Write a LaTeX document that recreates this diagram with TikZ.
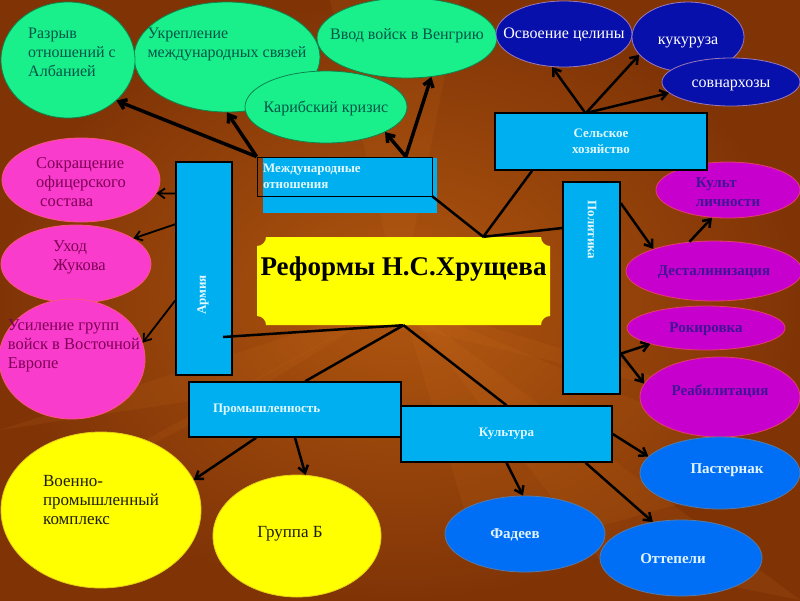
\documentclass[tikz,border=0pt]{standalone}
\usepackage{fontspec}
\setmainfont{Liberation Serif}
\usetikzlibrary{shapes.geometric,arrows.meta}
\definecolor{bgin}{RGB}{176,86,16}
\definecolor{bgout}{RGB}{128,52,6}
\definecolor{ray}{RGB}{230,130,40}
\definecolor{grn}{RGB}{25,240,140}
\definecolor{grntx}{RGB}{0,85,70}
\definecolor{navyb}{RGB}{8,16,172}
\definecolor{pnk}{RGB}{250,60,205}
\definecolor{pnktx}{RGB}{125,0,85}
\definecolor{prp}{RGB}{200,0,205}
\definecolor{prptx}{RGB}{65,20,150}
\definecolor{blu}{RGB}{0,110,245}
\definecolor{blutx}{RGB}{225,245,255}
\definecolor{ylw}{RGB}{255,255,0}
\definecolor{ylwtx}{RGB}{30,30,10}
\definecolor{skyb}{RGB}{0,175,240}
\definecolor{boxtx}{RGB}{225,248,255}
% text set in the middle of a blob: [raise][shift]{lines}
\NewDocumentCommand\inside{O{0pt}O{0pt}m}{\smash{\raisebox{#1}{\makebox[0pt]{\hspace*{#2}\begin{tabular}{@{}l@{}}#3\end{tabular}}}}}
\begin{document}
\begin{tikzpicture}
  [x=1pt,y=-1pt,
  blob/.style={ellipse,inner sep=0pt,line width=.8pt},
  sz/.style 2 args={minimum width=#1pt,minimum height=#2pt},
  green blob/.style={blob,fill=grn,draw=grn!55!black,text=grntx,font=\fontsize{16}{19}\selectfont},
  navy blob/.style={blob,fill=navyb,draw=pink!60!navyb,text=white,font=\fontsize{16}{19}\selectfont},
  pink blob/.style={blob,fill=pnk,draw=orange!40!pnk,text=pnktx,font=\fontsize{16.5}{19}\selectfont},
  purple blob/.style={blob,fill=prp,draw=orange!50!prp,text=prptx,font=\bfseries\fontsize{15}{19}\selectfont},
  blue blob/.style={blob,fill=blu,draw=gray!70!blu,text=blutx,font=\bfseries\fontsize{15}{19}\selectfont},
  yellow blob/.style={blob,fill=ylw,draw=ylw!60!brown,text=ylwtx,font=\fontsize{17}{19}\selectfont},
  box/.style={rectangle,fill=skyb,draw=black,line width=1.5pt,inner sep=0pt,align=center,
    text=boxtx,font=\bfseries\fontsize{13}{16}\selectfont},
  box label/.style={text=boxtx,font=\bfseries\fontsize{13}{14}\selectfont,inner sep=0pt},
  arr/.style={-{Straight Barb[length=7pt,width=10pt]},line width=2.5pt},
  link/.style={line width=2.5pt}]
\useasboundingbox (0,0) rectangle (800,600);
\shade[inner color=bgin,outer color=bgout] (0,0) rectangle (800,600);
\foreach \a/\b/\c/\d in {0/430/230/395/238,0/520/240/400/252,420/330/800/420/330,480/560/800/470/250,
    330/0/460/0/400,600/560/800/600/260}
  \fill[ray,opacity=.09] (\a,\b) -- (\c,\d) -- (400,300) -- cycle;

% international relations
\node (ukr)[green blob,sz={186}{110}] at (227,57) {\inside[8pt]{Укрепление\\международных связей}};
\node (alb)[green blob,sz={134}{116}] at (68,60) {\inside[2pt][8pt]{Разрыв\\отношений с\\Албанией}};
\node (hung)[green blob,sz={180}{80}] at (407,38) {\inside[-2pt]{Ввод войск в Венгрию}};
\node (carib)[green blob,sz={162}{72}] at (326,107) {\inside[-6pt]{Карибский кризис}};

% agriculture
\node (celina)[navy blob,sz={136}{66}] at (564,34) {\inside[-5pt]{Освоение целины}};
\node (corn)[navy blob,sz={112}{70}] at (688,37) {\inside[-8pt]{кукуруза}};
\node (sovn)[navy blob,sz={138}{48}] at (731,82) {\inside[-6pt]{совнархозы}};

% army
\node (sokr)[pink blob,sz={158}{84}] at (81,180) {\inside[-8pt]{Сокращение\\офицерского\\\hspace*{4pt}состава}};
\node (zhuk)[pink blob,sz={150}{78}] at (76,264) {\inside[2pt][7pt]{Уход\\Жукова}};
\node (usil)[pink blob,sz={146}{120}] at (72,359) {\inside[9pt][4pt]{Усиление групп\\войск в Восточной\\Европе}};

% politics
\node (kult)[purple blob,sz={144}{56}] at (728,190) {\inside[-7pt]{Культ\\личности}};
\node (destal)[purple blob,sz={176}{60}] at (714,271) {\inside[-4pt]{Десталинизация}};
\node (rokir)[purple blob,sz={158}{44}] at (706,328) {\inside[-4pt]{Рокировка}};
\node (reab)[purple blob,sz={160}{80}] at (720,397) {\inside[2pt]{Реабилитация}};

% culture
\node (past)[blue blob,sz={160}{72}] at (720,473) {\inside[0pt][14pt]{Пастернак}};
\node (fad)[blue blob,sz={160}{76}] at (525,534) {\inside[-4pt][-20pt]{Фадеев}};
\node (ott)[blue blob,sz={162}{76}] at (681,558) {\inside[-5pt][-16pt]{Оттепели}};

% industry
\node (vpk)[yellow blob,sz={200}{156}] at (101,510) {\inside[4pt]{Военно-\\промышленный\\комплекс}};
\node (grb)[yellow blob,sz={168}{122}] at (297,536) {\inside[-2pt][-14pt]{Группа Б}};

% boxes
\fill[skyb] (263,158) rectangle (437,213);
\node (intl)[box,fill=none,line width=.8pt,inner sep=6pt,text width=163pt,align=left,minimum height=39pt]
  at (344.5,176.5) {Международные\\отношения};
\node (agri)[box,sz={212}{57}] at (601,141.5) {Сельское\\хозяйство};
\node (army)[box,sz={56}{213}] at (204,268.5) {};
\node (army-l)[box label,rotate=90] at (203,295) {Армия};
\node (pol)[box,sz={57}{212}] at (591.5,288) {};
\node (pol-l)[box label,rotate=-90] at (592,230) {Политика};
\node (ind)[box,sz={212}{55},text width=164pt,align=left] at (295,409.5) {Промышленность};
\node (cult)[box,sz={211}{56}] at (506.5,434) {Культура};

% title plate with notched corners
\fill[ylw] (257,246) .. controls (262,246) and (266,242) .. (266,237) -- (541,237)
  .. controls (541,242) and (545,246) .. (550,246) -- (550,316)
  .. controls (545,316) and (541,320) .. (541,325) -- (266,325)
  .. controls (266,320) and (262,316) .. (257,316) -- cycle;
\node (title)[inner sep=0pt,sz={293}{88},font=\bfseries\fontsize{27}{32}\selectfont]
  at (403.5,281) {\inside[6pt]{Реформы Н.С.Хрущева}};

\coordinate (army-in) at (223,337);

\foreach \from/\to in {intl.north west/alb.-40,intl.north west/ukr.south,intl.18/hung.-58,intl.18/carib.-23}
  \draw[arr,line width=3.5pt] (\from) -- (\to);
\foreach \from/\to in {army.111/sokr.-10,army.123/zhuk.24,army.228/usil.13}
  \draw[arr,line width=1.8pt] (\from) -- (\to);
\foreach \from/\to in {agri.119/celina.-110,agri.116/corn.-160,agri.112/sovn.190,
    pol.71/destal.160,destal.130/kult.-120,pol.-66/rokir.-164,pol.-66/reab.170,
    ind.216/vpk.18,ind.south/grb.82,cult.east/past.167,cult.south/fad.93,cult.-20/ott.128}
  \draw[arr] (\from) -- (\to);
\foreach \from/\to in {agri.203/title.29,intl.south east/title.29,title.29/pol.116,
    army-in/title.south,title.south/ind.70,title.south/cult.north}
  \draw[link] (\from) -- (\to);
\end{tikzpicture}
\end{document}
